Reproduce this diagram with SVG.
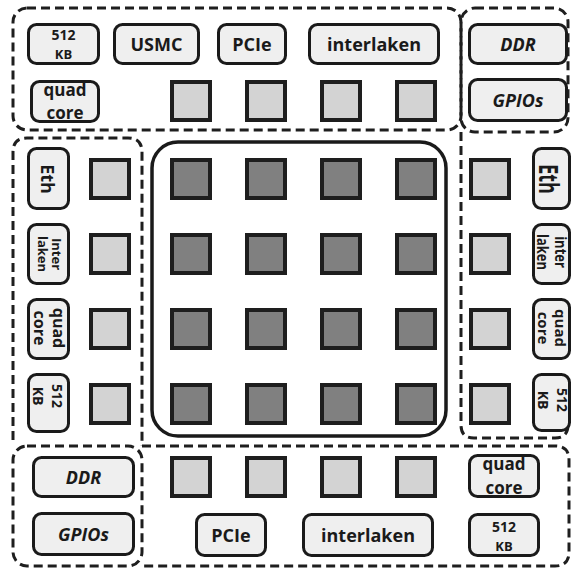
<svg xmlns="http://www.w3.org/2000/svg" width="572" height="571" viewBox="0 0 572 571">
<style>
.bg{fill:#ffffff}
.reg{fill:none;stroke:#1e1e1e;stroke-width:3;stroke-dasharray:9 5}
.mesh{fill:none;stroke:#1a1a1a;stroke-width:3.5}
.dk{fill:#808080;stroke:#1e1e1e;stroke-width:4}
.lt{fill:#d3d3d3;stroke:#1e1e1e;stroke-width:4}
.box{fill:#efefef;stroke:#1a1a1a;stroke-width:3}
.t{font-family:"Open Sans","Liberation Sans",sans-serif;font-weight:700;fill:#1a1a1a;text-anchor:middle}
.l{font-size:18px}
.s{font-size:14px}
.m{font-size:16px}
.r{font-size:15px}
.q{font-size:17px}
.x{font-size:13px}
.i{font-style:italic}
</style>
<rect class="bg" x="0" y="0" width="572" height="571"/>

<g id="regions">
<rect class="reg" x="13" y="8" width="448" height="122" rx="14"/>
<rect class="reg" x="461" y="8" width="107" height="124" rx="14"/>
<path class="reg" d="M461,132 V425 Q461,438 474,438 H555 Q568,438 568,425"/>
<path class="reg" d="M13,440 V152 Q13,138 27,138 H128 Q142,138 142,152 V446"/>
<rect class="reg" x="13" y="446" width="129" height="120" rx="14"/>
<path class="reg" d="M142,446 H555 Q569,446 569,460 V552 Q569,566 555,566 H142"/>
</g>

<g id="mesh">
<rect class="mesh" x="152" y="142" width="294" height="294" rx="26"/>
<rect class="dk" x="172" y="160" width="38" height="38"/>
<rect class="dk" x="247" y="160" width="38" height="38"/>
<rect class="dk" x="322" y="160" width="38" height="38"/>
<rect class="dk" x="397" y="160" width="38" height="38"/>
<rect class="dk" x="172" y="235" width="38" height="38"/>
<rect class="dk" x="247" y="235" width="38" height="38"/>
<rect class="dk" x="322" y="235" width="38" height="38"/>
<rect class="dk" x="397" y="235" width="38" height="38"/>
<rect class="dk" x="172" y="310" width="38" height="38"/>
<rect class="dk" x="247" y="310" width="38" height="38"/>
<rect class="dk" x="322" y="310" width="38" height="38"/>
<rect class="dk" x="397" y="310" width="38" height="38"/>
<rect class="dk" x="172" y="385" width="38" height="38"/>
<rect class="dk" x="247" y="385" width="38" height="38"/>
<rect class="dk" x="322" y="385" width="38" height="38"/>
<rect class="dk" x="397" y="385" width="38" height="38"/>
</g>

<g id="edge-tiles">
<rect class="lt" x="172" y="82" width="38" height="38"/>
<rect class="lt" x="247" y="82" width="38" height="38"/>
<rect class="lt" x="322" y="82" width="38" height="38"/>
<rect class="lt" x="397" y="82" width="38" height="38"/>
<rect class="lt" x="172" y="458" width="38" height="38"/>
<rect class="lt" x="247" y="458" width="38" height="38"/>
<rect class="lt" x="322" y="458" width="38" height="38"/>
<rect class="lt" x="397" y="458" width="38" height="38"/>
<rect class="lt" x="91" y="160" width="38" height="38"/>
<rect class="lt" x="91" y="235" width="38" height="38"/>
<rect class="lt" x="91" y="310" width="38" height="38"/>
<rect class="lt" x="91" y="385" width="38" height="38"/>
<rect class="lt" x="471" y="160" width="38" height="38"/>
<rect class="lt" x="471" y="235" width="38" height="38"/>
<rect class="lt" x="471" y="310" width="38" height="38"/>
<rect class="lt" x="471" y="385" width="38" height="38"/>
</g>

<!-- top -->
<g id="top-512kb"><rect class="box" x="28.5" y="24.5" width="70" height="39" rx="8"/><text class="t s" x="63.5" y="40">512</text><text class="t x" x="63.5" y="59">KB</text></g>
<g id="top-usmc"><rect class="box" x="114.5" y="24.5" width="84" height="39" rx="8"/><text class="t l" x="156.5" y="50.5">USMC</text></g>
<g id="top-pcie"><rect class="box" x="218.5" y="24.5" width="67" height="39" rx="8"/><text class="t l" x="252" y="50.5">PCIe</text></g>
<g id="top-interlaken"><rect class="box" x="309.5" y="24.5" width="129" height="39" rx="8"/><text class="t l" x="374" y="50.5">interlaken</text></g>
<g id="top-ddr"><rect class="box" x="469.5" y="24.5" width="97" height="39" rx="8"/><text class="t l i" x="518" y="50.5">DDR</text></g>
<g id="top-gpios"><rect class="box" x="469.5" y="79.5" width="97" height="41" rx="8"/><text class="t l i" x="518" y="106.5">GPIOs</text></g>
<g id="top-quadcore"><rect class="box" x="31.5" y="81.5" width="67" height="40" rx="8"/><text class="t q" x="65" y="96">quad</text><text class="t q" x="65" y="119">core</text></g>

<!-- left column -->
<g id="left-eth"><rect class="box" x="28.5" y="148.5" width="40" height="60" rx="8"/><text class="t l" transform="translate(48,179) rotate(90)" x="0" y="7">Eth</text></g>
<g id="left-interlaken"><rect class="box" x="28.5" y="224.5" width="40" height="59" rx="8"/><text class="t x" transform="translate(48.5,254) rotate(90)" x="0" y="-3.5">Inter</text><text class="t x" transform="translate(48.5,254) rotate(90)" x="0" y="10.5">laken</text></g>
<g id="left-quadcore"><rect class="box" x="28.5" y="299.5" width="40" height="59" rx="8"/><text class="t m" transform="translate(48.5,328) rotate(90)" x="0" y="-4.5">quad</text><text class="t m" transform="translate(48.5,328) rotate(90)" x="0" y="15">core</text></g>
<g id="left-512kb"><rect class="box" x="28.5" y="374.5" width="40" height="57" rx="8"/><text class="t s" transform="translate(48.5,396) rotate(90)" x="0" y="-3.5">512</text><text class="t s" transform="translate(48.5,396) rotate(90)" x="0" y="16">KB</text></g>

<!-- right column -->
<g id="right-eth"><rect class="box" x="533.5" y="148.5" width="36" height="60" rx="8"/><text class="t l" transform="translate(549,179) rotate(90) scale(1,1.45)" x="0" y="7">Eth</text></g>
<g id="right-interlaken"><rect class="box" x="533.5" y="224.5" width="36" height="59" rx="8"/><text class="t x" transform="translate(551.5,252) rotate(90) scale(1,1.25)" x="0" y="-3">inter</text><text class="t x" transform="translate(551.5,252) rotate(90) scale(1,1.25)" x="0" y="11.5">laken</text></g>
<g id="right-quadcore"><rect class="box" x="533.5" y="299.5" width="36" height="59" rx="8"/><text class="t r" transform="translate(551.5,328) rotate(90)" x="0" y="-3.5">quad</text><text class="t r" transform="translate(551.5,328) rotate(90)" x="0" y="13.5">core</text></g>
<g id="right-512kb"><rect class="box" x="533.5" y="374.5" width="36" height="56" rx="8"/><text class="t s" transform="translate(551.5,400) rotate(90)" x="0" y="-5.5">512</text><text class="t s" transform="translate(551.5,400) rotate(90)" x="0" y="13.5">KB</text></g>

<!-- bottom -->
<g id="bottom-ddr"><rect class="box" x="33.5" y="457.5" width="100" height="39" rx="8"/><text class="t l i" x="83.5" y="483.5">DDR</text></g>
<g id="bottom-gpios"><rect class="box" x="33.5" y="513.5" width="100" height="41" rx="8"/><text class="t l i" x="83.5" y="540.5">GPIOs</text></g>
<g id="bottom-pcie"><rect class="box" x="196.5" y="514.5" width="69" height="41" rx="8"/><text class="t l" x="231" y="541.5">PCIe</text></g>
<g id="bottom-interlaken"><rect class="box" x="303.5" y="514.5" width="129" height="41" rx="8"/><text class="t l" x="368" y="541.5">interlaken</text></g>
<g id="bottom-quadcore"><rect class="box" x="469.5" y="455.5" width="69" height="41" rx="8"/><text class="t q" x="504" y="470">quad</text><text class="t q" x="504" y="494">core</text></g>
<g id="bottom-512kb"><rect class="box" x="469.5" y="514.5" width="69" height="41" rx="8"/><text class="t s" x="504" y="532">512</text><text class="t x" x="504" y="551">KB</text></g>
</svg>
